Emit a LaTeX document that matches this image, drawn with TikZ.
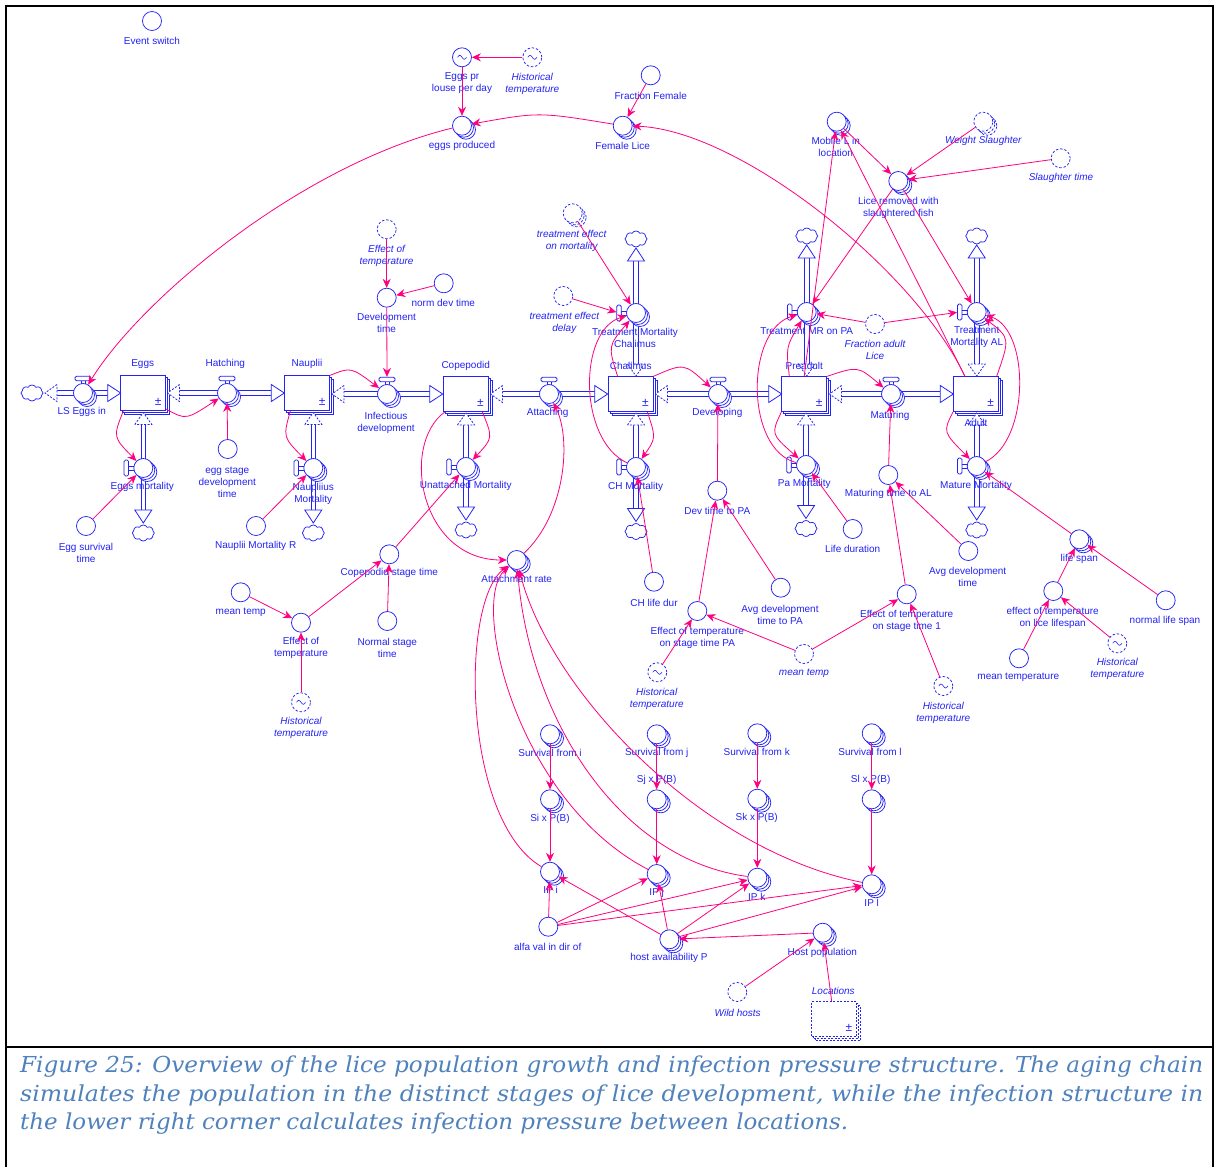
\documentclass[tikz,border=0pt]{standalone}
\usepackage{graphicx}
\usepackage{fontspec}
\setmainfont{Liberation Sans}
\newfontfamily\capfont{DejaVu Serif}
\usetikzlibrary{arrows.meta,shapes.symbols,shadows}
\definecolor{vblue}{RGB}{35,35,245}
\definecolor{lpink}{RGB}{255,0,128}
\definecolor{capblue}{RGB}{79,129,189}
\tikzset{
 aux/.style={circle, draw=vblue, fill=white, line width=0.75pt, minimum size=19pt, inner sep=0pt},
 ghost/.style={aux, dash pattern=on 2.5pt off 1.8pt},
 arr/.style={copy shadow={shadow xshift=4pt,shadow yshift=-4pt,draw=vblue,fill=white,opacity=1,line width=0.75pt},
             copy shadow={shadow xshift=2pt,shadow yshift=-2pt,draw=vblue,fill=white,opacity=1,line width=0.75pt}},
 stock/.style={rectangle, draw=vblue, fill=white, line width=0.75pt, minimum width=45pt, minimum height=35pt, inner sep=0pt, arr},
 pm/.style={text=vblue, font=\fontsize{12}{12}\selectfont, inner sep=0pt},
 lbl/.style={text=vblue, font=\fontsize{10}{12}\selectfont, align=center, inner sep=0pt},
 ilbl/.style={text=vblue, font=\fontsize{10}{12}\selectfont\itshape, align=center, inner sep=0pt},
 link/.style={draw=lpink, line width=0.8pt, -{Stealth[length=9pt,width=8pt]}},
 pipeln/.style={draw=vblue, line width=0.9pt},
 fhead/.style={draw=vblue, fill=white, line width=0.8pt, line join=miter},
 bhead/.style={fhead, dash pattern=on 2pt off 1.5pt},
 cloudn/.style={cloud, cloud puffs=8, cloud puff arc=120, aspect=1.4, draw=vblue, fill=white, line width=0.75pt, minimum width=22pt, minimum height=16pt, inner sep=0pt},
 hhandle/.style={rectangle, draw=vblue, fill=white, line width=0.75pt, rounded corners=1.5pt, minimum width=16pt, minimum height=4.5pt, inner sep=0pt},
 vhandle/.style={rectangle, draw=vblue, fill=white, line width=0.75pt, rounded corners=1.5pt, minimum width=4.5pt, minimum height=16pt, inner sep=0pt},
 frame/.style={draw=black, line width=2pt},
}
\newcommand\flowR[3]{%
  \draw[pipeln] ({#1+12},{#3-2.3}) -- ({#2-13},{#3-2.3}) ({#1+12},{#3+2.3}) -- ({#2-13},{#3+2.3});
  \draw[bhead] ({#1+12},{#3-8.5}) -- (#1,#3) -- ({#1+12},{#3+8.5}) -- cycle;
  \draw[fhead] ({#2-13},{#3-8.5}) -- (#2,#3) -- ({#2-13},{#3+8.5}) -- cycle;}
\newcommand\flowD[3]{%
  \draw[pipeln] ({#1-2.3},{#2+12}) -- ({#1-2.3},{#3-13}) ({#1+2.3},{#2+12}) -- ({#1+2.3},{#3-13});
  \draw[bhead] ({#1-8.5},{#2+12}) -- (#1,#2) -- ({#1+8.5},{#2+12}) -- cycle;
  \draw[fhead] ({#1-8.5},{#3-13}) -- (#1,#3) -- ({#1+8.5},{#3-13}) -- cycle;}
\newcommand\flowU[3]{%
  \draw[pipeln] ({#1-2.3},{#2-12}) -- ({#1-2.3},{#3+13}) ({#1+2.3},{#2-12}) -- ({#1+2.3},{#3+13});
  \draw[bhead] ({#1-8.5},{#2-12}) -- (#1,#2) -- ({#1+8.5},{#2-12}) -- cycle;
  \draw[fhead] ({#1-8.5},{#3+13}) -- (#1,#3) -- ({#1+8.5},{#3+13}) -- cycle;}
\newcommand\hvalve[3]{%
  \draw[vblue,line width=0.75pt,fill=white] ({#2-2},{#3-13}) rectangle ({#2+2},{#3-9});
  \node[aux,arr] (#1) at (#2,#3) {};
  \node[hhandle] (#1-h) at (#2,{#3-14.5}) {};}
\newcommand\vvalve[3]{%
  \draw[vblue,line width=0.75pt,fill=white] ({#2-15},{#3-2}) rectangle ({#2-9},{#3+2});
  \node[aux,arr] (#1) at (#2,#3) {};
  \node[vhandle] (#1-h) at ({#2-17},#3) {};}
\newcommand\tld[1]{\draw[vblue,line width=0.6pt] ([xshift=-4.5pt]#1.center) sin ++(2.25,-2) cos ++(2.25,2) sin ++(2.25,2) cos ++(2.25,-2);}
\begin{document}
\begin{tikzpicture}[x=1pt,y=-1pt]
\useasboundingbox (0,0) rectangle (1217,1167);
\fill[white] (0,0) rectangle (1217,1167);
% frame
\draw[frame] (6,1167) -- (6,6) -- (1212.5,6) -- (1212.5,1167);
\draw[frame] (6,1047) -- (1212.5,1047);

% ---------- stocks
\node[stock] (eggs) at (143.2,393.2) {};
\node[stock] (naup) at (307.2,393.2) {};
\node[stock] (cope) at (465.5,394.2) {};
\node[stock] (chal) at (630.5,394.2) {};
\node[stock] (pre) at (804.2,394.2) {};
\node[stock] (adult) at (975.8,394.2) {};
\node[stock, dash pattern=on 2pt off 1.5pt] (loc) at (834,1019) {};
\foreach \s in {eggs,naup,cope,chal,pre,adult,loc}
  \node[pm] at ([xshift=-8pt,yshift=9pt]\s.south east) {±};

% ---------- flows (pipes)
\flowR{45}{120.7}{393}
\flowR{167.5}{284.3}{393}
\flowR{332}{442.7}{394}
\flowR{490.5}{607.7}{394}
\flowR{655.5}{781.7}{394}
\flowR{829.5}{953.3}{394}
\flowD{143.3}{412.5}{523}
\flowD{313.3}{412.5}{523}
\flowD{466}{413}{520}
\flowD{636}{413}{521.5}
\flowD{806}{413}{518.5}
\flowD{976.7}{413}{520}
\flowU{636}{376}{248}
\flowU{806.7}{376}{245}
\flowU{976.7}{376}{245}

% clouds
\node[cloudn] (c0) at (32,393) {};
\node[cloudn] (c1) at (143.3,533) {};
\node[cloudn] (c2) at (313.3,533) {};
\node[cloudn] (c3) at (466,530) {};
\node[cloudn] (c4) at (636,531.5) {};
\node[cloudn] (c5) at (806,528.5) {};
\node[cloudn] (c6) at (976.7,530) {};
\node[cloudn] (c7) at (636,239) {};
\node[cloudn] (c8) at (806.7,236) {};
\node[cloudn] (c9) at (976.7,236) {};

% valves
\hvalve{lsin}{83}{393}
\hvalve{hatch}{227}{393}
\hvalve{infd}{387}{394}
\hvalve{attach}{549}{394}
\hvalve{devp}{718}{394}
\hvalve{matur}{891}{394}
\vvalve{eggm}{143.3}{468}
\vvalve{naum}{313.3}{468}
\vvalve{unam}{466}{467}
\vvalve{chm}{636}{467}
\vvalve{pam}{806}{465}
\vvalve{matm}{976.7}{466}
\vvalve{tmc}{636}{313}
\vvalve{tmr}{806.7}{312}
\vvalve{tmal}{976.7}{312}

% ---------- auxiliaries
\node[aux] (evsw) at (152,21) {};
\node[aux] (eplpd) at (462,57.3) {}; \tld{eplpd}
\node[ghost] (ht1) at (532.3,57.3) {}; \tld{ht1}
\node[aux,arr] (eprod) at (462,125.7) {};
\node[aux] (ffem) at (650.7,75.3) {};
\node[aux,arr] (flice) at (622.7,125.7) {};
\node[ghost] (eot) at (386.7,229.3) {};
\node[aux] (devt) at (386.7,297.7) {};
\node[aux] (ndt) at (443.7,283.3) {};
\node[ghost,arr] (tem) at (572.7,213.3) {};
\node[ghost] (ted) at (563.3,296) {};
\node[aux,arr] (mobl) at (836.7,121.7) {};
\node[ghost,arr] (wsl) at (983.3,121.7) {};
\node[ghost] (slt) at (1060.7,158.3) {};
\node[aux,arr] (lrem) at (898.3,181) {};
\node[ghost] (fal) at (875,324) {};
\node[aux] (esdt) at (227.7,449) {};
\node[aux] (est) at (86,526) {};
\node[aux] (nmr) at (256,526) {};
\node[aux] (cst) at (389.3,554.3) {};
\node[aux] (mt1) at (240.7,592.3) {};
\node[aux] (eot2) at (301,622.7) {};
\node[aux] (nst) at (387.3,621) {};
\node[ghost] (ht2) at (301,702.3) {}; \tld{ht2}
\node[aux,arr] (arate) at (516.7,560) {};
\node[aux] (chld) at (654,581.7) {};
\node[aux] (dtpa) at (717.3,490.7) {};
\node[aux] (adtpa) at (780.7,587.7) {};
\node[aux] (etpa) at (697.3,611) {};
\node[ghost] (ht3) at (657.3,672.3) {}; \tld{ht3}
\node[ghost] (mt2) at (804,654) {};
\node[aux] (ldur) at (852.7,529) {};
\node[aux] (mtal) at (888.3,475) {};
\node[aux] (adt) at (968.3,551) {};
\node[aux] (ets1) at (906.7,594.3) {};
\node[ghost] (ht4) at (943.3,686) {}; \tld{ht4}
\node[aux,arr] (lspan) at (1079.3,539.3) {};
\node[aux] (etll) at (1053.3,591) {};
\node[aux] (nls) at (1165.7,600.3) {};
\node[aux] (mtemp) at (1019,658.3) {};
\node[ghost] (ht5) at (1117.3,643.3) {}; \tld{ht5}
\node[aux,arr] (svi) at (550,734.3) {};
\node[aux,arr] (svj) at (656.7,734.3) {};
\node[aux,arr] (svk) at (757.3,733.3) {};
\node[aux,arr] (svl) at (871.7,733.3) {};
\node[aux,arr] (sip) at (550,799.3) {};
\node[aux,arr] (sjp) at (656.7,799.3) {};
\node[aux,arr] (skp) at (757.3,798.7) {};
\node[aux,arr] (slp) at (871.7,799.3) {};
\node[aux,arr] (ipi) at (550,871.7) {};
\node[aux,arr] (ipj) at (656.7,874) {};
\node[aux,arr] (ipk) at (757.3,877.7) {};
\node[aux,arr] (ipl) at (871.7,884.3) {};
\node[aux] (alfa) at (548.3,926.7) {};
\node[aux,arr] (hap) at (669.3,939.3) {};
\node[aux,arr] (hpop) at (822.7,932.7) {};
\node[ghost] (wild) at (737.3,992) {};

% ---------- labels
\node[lbl] at (152,40.7) {Event switch};
\node[lbl] at (462,83.5) {Eggs pr\\louse per day};
\node[ilbl] at (532.3,83.5) {Historical\\temperature};
\node[lbl] at (462,145.7) {eggs produced};
\node[lbl] at (650.7,95.7) {Fraction Female};
\node[lbl] at (622.7,145.7) {Female Lice};
\node[ilbl] at (386.5,255.5) {Effect of\\temperature};
\node[lbl] at (386.5,323.3) {Development\\time};
\node[lbl] at (443.3,303.3) {norm dev time};
\node[ilbl] at (571.7,240.5) {treatment effect\\on mortality};
\node[ilbl] at (564.3,323) {treatment effect\\delay};
\node[lbl] at (635,338.3) {Treatment Mortality\\Chalimus};
\node[lbl] at (835.7,146.7) {Mobile L in\\location};
\node[ilbl] at (983.3,140.7) {Weight Slaughter};
\node[ilbl] at (1061,177.7) {Slaughter time};
\node[lbl] at (898.3,207.7) {Lice removed with\\slaughtered fish};
\node[lbl] at (806.7,331) {Treatment MR on PA};
\node[ilbl] at (875,350.2) {Fraction adult\\Lice};
\node[lbl] at (976.7,337.5) {Treatment\\Mortality AL};
\node[lbl] at (142.7,364.3) {Eggs};
\node[lbl] at (225.3,364.3) {Hatching};
\node[lbl] at (307,364.3) {Nauplii};
\node[lbl] at (81.7,412.3) {LS Eggs in};
\node[lbl] at (386,422.5) {Infectious\\development};
\node[lbl] at (142.3,486.7) {Eggs mortality};
\node[lbl] at (227.3,482) {egg stage\\development\\time};
\node[lbl] at (313.3,494) {Naupliius\\Mortality};
\node[lbl] at (86,552.5) {Egg survival\\time};
\node[lbl] at (255.7,545.7) {Nauplii Mortality R};
\node[lbl] at (389.3,573.3) {Copepodid stage time};
\node[lbl] at (240.7,612.7) {mean temp};
\node[lbl] at (301,648.3) {Effect of\\temperature};
\node[lbl] at (387.3,647.5) {Normal stage\\time};
\node[ilbl] at (301,728.3) {Historical\\temperature};
\node[lbl] at (465.7,365.7) {Copepodid};
\node[lbl] at (547.7,413.3) {Attaching};
\node[lbl] at (630.7,365.7) {Chalimus};
\node[lbl] at (717.3,413.3) {Developing};
\node[lbl] at (465.7,485.7) {Unattached Mortality};
\node[lbl] at (635.7,486.7) {CH Mortality};
\node[lbl] at (717.3,510.7) {Dev time to PA};
\node[lbl] at (516.7,579.3) {Attachment rate};
\node[lbl] at (654,602.7) {CH life dur};
\node[lbl] at (780,614.7) {Avg development\\time to PA};
\node[lbl] at (697.3,637.7) {Effect of temperature\\on stage time PA};
\node[ilbl] at (656.7,699) {Historical\\temperature};
\node[ilbl] at (804,673.7) {mean temp};
\node[lbl] at (804.3,365.7) {Preadult};
\node[lbl] at (890,415.7) {Maturing};
\node[lbl] at (976,422.7) {Adult};
\node[lbl] at (804.3,484.3) {Pa Mortality};
\node[lbl] at (976,485.7) {Mature Mortality};
\node[lbl] at (852.7,548.7) {Life duration};
\node[lbl] at (888.3,494.3) {Maturing time to AL};
\node[lbl] at (967.7,576.7) {Avg development\\time};
\node[lbl] at (906.7,620.8) {Effect of temperature\\on stage time 1};
\node[ilbl] at (943.3,712.8) {Historical\\temperature};
\node[lbl] at (1079.3,559.3) {life span};
\node[lbl] at (1052.7,617.7) {effect of temperature\\on lice lifespan};
\node[lbl] at (1165,620.7) {normal life span};
\node[lbl] at (1018.3,677.7) {mean temperature};
\node[ilbl] at (1117.3,669.3) {Historical\\temperature};
\node[lbl] at (550,753.3) {Survival from i};
\node[lbl] at (656.7,753.3) {Survival from j};
\node[lbl] at (756.7,752.3) {Survival from k};
\node[lbl] at (870,752.3) {Survival from l};
\node[lbl] at (550,819) {Si x P(B)};
\node[lbl] at (656.7,780) {Sj x P(B)};
\node[lbl] at (756.7,818.3) {Sk x P(B)};
\node[lbl] at (870.7,780) {Sl x P(B)};
\node[lbl] at (550.7,890) {IP i};
\node[lbl] at (656.7,892.7) {IP j};
\node[lbl] at (756.7,896.7) {IP k};
\node[lbl] at (871.7,903.3) {IP l};
\node[lbl] at (547.7,946.7) {alfa val in dir of};
\node[lbl] at (669,958.3) {host availability P};
\node[lbl] at (822.3,952.7) {Host population};
\node[ilbl] at (833.3,990.7) {Locations};
\node[ilbl] at (737.7,1012.7) {Wild hosts};

% ---------- connectors: curves
\draw[link] (flice) .. controls (539,112) .. (eprod);
\draw[link] (eprod) .. controls (300,165) and (140,300) .. (lsin);
\draw[link] ([xshift=12pt]adult.north west) .. controls (915,270) and (740,130) .. (flice);
\draw[link] ([yshift=2pt]eggs.south east) .. controls (186,420) .. (hatch);
\draw[link] ([xshift=3pt]eggs.south west) .. controls (113,437) .. (eggm);
\draw[link] (naup.north east) .. controls (351,367) .. (infd);
\draw[link] ([xshift=6pt]naup.south west) .. controls (283,437) .. (naum);
\draw[link] ([xshift=-6pt]cope.south east) .. controls (493,438) .. (unam);
\draw[link] ([xshift=2pt]cope.south west) .. controls (400,445) and (420,560) .. (arate);
\draw[link] (arate) .. controls (565,515) and (572,440) .. (attach);
\draw[link] (chal.north east) .. controls (684,363) .. (devp);
\draw[link] ([xshift=-6pt]chal.south east) .. controls (656,438) .. (chm);
\draw[link] ([xshift=10pt]chal.north west) .. controls (608,346) .. (tmc);
\draw[link] (chm) .. controls (578,440) and (578,330) .. (tmc);
\draw[link] ([xshift=8pt]pre.north west) .. controls (786,347) .. (tmr);
\draw[link] (pam) .. controls (745,450) and (745,330) .. (tmr);
\draw[link] (pre.south west) .. controls (771,434) .. (pam);
\draw[link] (pre.north east) .. controls (858,366) .. (matur);
\draw[link] ([xshift=-2pt]adult.north east) .. controls (1010,338) .. (tmal);
\draw[link] (matm) .. controls (1030,440) and (1030,330) .. (tmal);
\draw[link] (adult.south west) .. controls (943,432) .. (matm);
\draw[link] (ipi) .. controls (462,820) and (460,600) .. (arate);
\draw[link] (ipj) .. controls (515,800) and (470,600) .. (arate);
\draw[link] (ipk) .. controls (620,860) and (530,720) .. (arate);
\draw[link] (ipl) .. controls (700,850) and (550,690) .. (arate);

% ---------- connectors: straight
\draw[link] (ht1) -- (eplpd);
\draw[link] (eplpd) -- (eprod);
\draw[link] (ffem) -- (flice);
\draw[link] (eot) -- (devt);
\draw[link] (ndt) -- (devt);
\draw[link] (devt) -- (infd-h);
\draw[link] (tem) -- (tmc);
\draw[link] (ted) -- (tmc-h);
\draw[link] (esdt) -- (hatch);
\draw[link] (est) -- (eggm);
\draw[link] (nmr) -- (naum);
\draw[link] (cst) -- (unam);
\draw[link] (mt1) -- (eot2);
\draw[link] (eot2) -- (cst);
\draw[link] (nst) -- (cst);
\draw[link] (ht2) -- (eot2);
\draw[link] (chld) -- (chm);
\draw[link] (dtpa) -- (devp);
\draw[link] (adtpa) -- (dtpa);
\draw[link] (etpa) -- (dtpa);
\draw[link] (ht3) -- (etpa);
\draw[link] (mt2) -- (etpa);
\draw[link] (mt2) -- (ets1);
\draw[link] (ldur) -- (pam);
\draw[link] (mtal) -- (matur);
\draw[link] (adt) -- (mtal);
\draw[link] (ets1) -- (mtal);
\draw[link] (ht4) -- (ets1);
\draw[link] (lspan) -- (matm);
\draw[link] (etll) -- (lspan);
\draw[link] (nls) -- (lspan);
\draw[link] (mtemp) -- (etll);
\draw[link] (ht5) -- (etll);
\draw[link] (mobl) -- (lrem);
\draw[link] (wsl) -- (lrem);
\draw[link] (slt) -- (lrem);
\draw[link] (lrem) -- (tmr);
\draw[link] (lrem) -- (tmal);
\draw[link] (fal) -- (tmr);
\draw[link] (fal) -- (tmal-h);
\draw[link] (pre.north) -- (mobl);
\draw[link] ([xshift=12pt]adult.north west) -- (mobl);
\draw[link] (svi) -- (sip);
\draw[link] (sip) -- (ipi);
\draw[link] (svj) -- (sjp);
\draw[link] (sjp) -- (ipj);
\draw[link] (svk) -- (skp);
\draw[link] (skp) -- (ipk);
\draw[link] (svl) -- (slp);
\draw[link] (slp) -- (ipl);
\draw[link] (alfa) -- (ipi);
\draw[link] (alfa) -- (ipj);
\draw[link] (alfa) -- (ipk);
\draw[link] (alfa) -- (ipl);
\draw[link] (hap) -- (ipi);
\draw[link] (hap) -- (ipj);
\draw[link] (hap) -- (ipk);
\draw[link] (hap) -- (ipl);
\draw[link] (hpop) -- (hap);
\draw[link] (wild) -- (hpop);
\draw[link] (loc) -- (hpop);

% ---------- caption
\node[anchor=base west, text=capblue, inner sep=0pt] (cap1) at (20,1072.5) {\capfont\itshape\fontsize{22}{26}\selectfont\resizebox{1183pt}{\height}{Figure 25: Overview of the lice population growth and infection pressure structure. The aging chain}};
\node[anchor=base west, text=capblue, inner sep=0pt] (cap2) at (20,1101) {\capfont\itshape\fontsize{22}{26}\selectfont\resizebox{1183pt}{\height}{simulates the population in the distinct stages of lice development, while the infection structure in}};
\node[anchor=base west, text=capblue, inner sep=0pt] (cap3) at (20,1129) {\capfont\itshape\fontsize{22}{26}\selectfont\resizebox{828pt}{\height}{the lower right corner calculates infection pressure between locations.}};
\end{tikzpicture}
\end{document}
